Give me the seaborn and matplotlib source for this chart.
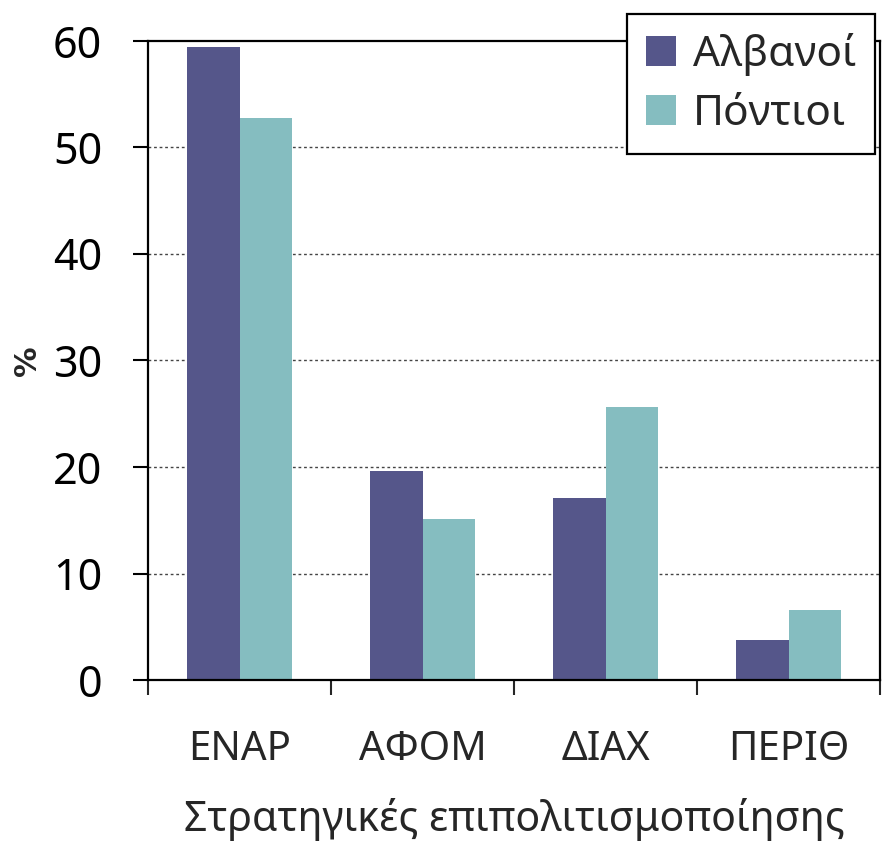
import matplotlib
matplotlib.use("Agg")
import matplotlib.pyplot as plt
import seaborn as sns
import pandas as pd
from matplotlib.ticker import FixedLocator
from matplotlib.patches import Patch

categories = ["ΕΝΑΡ", "ΑΦΟΜ", "ΔΙΑΧ", "ΠΕΡΙΘ"]
series = ["Αλβανοί", "Πόντιοι"]
albanians = [59.4, 19.6, 17.1, 3.8]
pontians = [52.8, 15.1, 25.6, 6.6]
colors = ["#55568A", "#85BDC0"]

df = pd.DataFrame({
    "cat": categories * 2,
    "group": [series[0]] * 4 + [series[1]] * 4,
    "val": albanians + pontians,
})

sns.set_style("white")
plt.rcParams["font.family"] = ["Noto Sans", "DejaVu Sans"]

fig = plt.figure(figsize=(8.86, 8.46), dpi=100)
ax = fig.add_axes([148/886, 1-680/846, (880-148)/886, (680-41)/846])

sns.barplot(data=df, x="cat", y="val", hue="group", order=categories,
            hue_order=series, palette=colors, width=0.575, linewidth=0,
            saturation=1, ax=ax, legend=False)

ax.set_ylim(0, 60)
ax.set_xlim(-0.5, 3.5)
ax.set_yticks([0, 10, 20, 30, 40, 50, 60])
for y in [10, 20, 30, 40, 50]:
    ax.axhline(y, color="#444444", linestyle=(0, (2, 2)), linewidth=1.0, zorder=0)

for s in ax.spines.values():
    s.set_color("black")
    s.set_linewidth(1.6)

ax.tick_params(axis="y", direction="out", length=11, width=1.5, pad=22,
               labelsize=31, left=True, colors="black")
ax.tick_params(axis="x", which="major", length=0, pad=36, labelsize=29)
ax.xaxis.set_minor_locator(FixedLocator([-0.5, 0.5, 1.5, 2.5, 3.5]))
ax.tick_params(axis="x", which="minor", direction="out", length=11, width=1.5,
               bottom=True)

ax.set_xlabel("Στρατηγικές επιπολιτισμοποίησης", fontsize=29.5, labelpad=20)
ax.set_ylabel("%", fontsize=22, fontweight="bold", labelpad=8,
              family=["DejaVu Sans"])

handles = [Patch(facecolor=c, edgecolor="none") for c in colors]
leg = fig.legend(handles, series, loc="upper left",
                 bbox_to_anchor=(627/886, 1-14/846), fontsize=30.5,
                 frameon=True, fancybox=False, framealpha=1,
                 edgecolor="black", handlelength=0.7, handleheight=0.7,
                 handletextpad=0.4, labelspacing=0.4, borderpad=0.45,
                 borderaxespad=0)
leg.get_frame().set_linewidth(1.6)

fig.savefig("out.png", dpi=100)
